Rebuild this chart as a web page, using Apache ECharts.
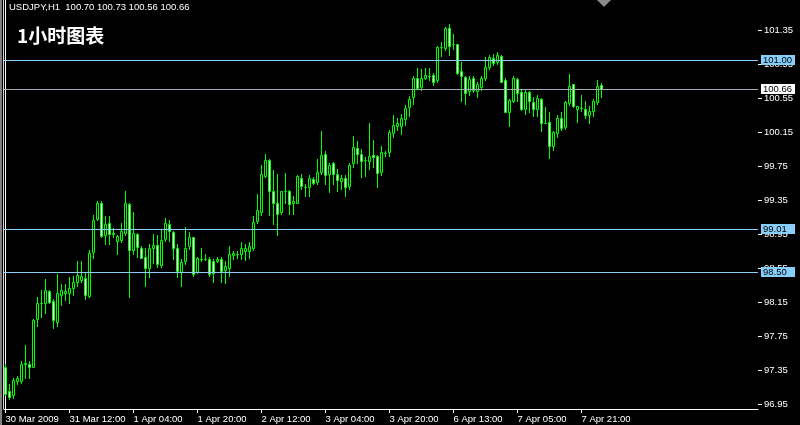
<!DOCTYPE html>
<html><head><meta charset="utf-8">
<script src="https://cdn.jsdelivr.net/npm/echarts@6/dist/echarts.min.js"></script>
<style>html,body{margin:0;padding:0;background:#000;}#c{width:800px;height:425px;}</style>
</head><body><div id="c"></div>
<script>
const symbolName = 'USDJPY,H1';
const chartTitle = '1小时图表';
const tickLabels = ['30 Mar 2009','31 Mar 12:00','1 Apr 04:00','1 Apr 20:00','2 Apr 12:00','3 Apr 04:00','3 Apr 20:00','6 Apr 13:00','7 Apr 05:00','7 Apr 21:00'];
const tickIndex = [0,16,32,48,64,80,96,112,128,144];
const yTicks = [96.95,97.35,97.75,98.15,98.55,98.95,99.35,99.75,100.15,100.55,100.95,101.35];
const hLines = [101.00, 99.01, 98.50];
const bidLine = 100.66;

const open = [97.38,97.10,97.05,97.22,97.22,97.42,97.42,97.39,97.95,98.14,
98.14,98.28,98.16,97.92,98.23,98.25,98.25,98.32,98.38,98.41,
98.43,98.22,98.74,99.13,99.31,98.94,99.08,98.95,98.87,98.88,
98.96,99.30,98.76,98.95,98.79,98.68,98.55,98.79,98.82,98.58,
98.89,99.07,98.97,98.79,98.50,98.63,98.81,98.91,98.50,98.65,
98.66,98.65,98.63,98.63,98.66,98.53,98.55,98.70,98.71,98.72,
98.75,98.75,98.78,99.10,99.21,99.63,99.82,99.45,99.32,99.21,
99.46,99.46,99.31,99.32,99.61,99.50,99.50,99.60,99.56,99.68,
99.89,99.65,99.78,99.66,99.57,99.61,99.51,99.78,99.96,99.89,
99.82,99.81,99.88,99.87,99.68,99.90,99.91,100.14,100.22,100.22,
100.30,100.44,100.56,100.78,100.68,100.78,100.81,100.82,100.76,101.15,
101.14,101.37,101.18,101.19,100.87,100.80,100.63,100.78,100.63,100.68,
100.78,100.91,101.02,100.97,101.05,100.76,100.38,100.52,100.77,100.62,
100.42,100.62,100.50,100.42,100.54,100.26,100.27,99.99,100.14,100.31,
100.21,100.49,100.71,100.42,100.43,100.42,100.35,100.40,100.50,100.70];
const high = [97.42,97.19,97.25,97.28,97.45,97.64,97.46,97.95,98.21,98.29,
98.42,98.29,98.19,98.48,98.36,98.36,98.44,98.45,98.63,98.63,
98.50,98.76,99.17,99.34,99.34,99.16,99.16,99.02,98.94,99.08,
99.45,99.31,99.21,98.96,98.81,98.79,98.83,98.95,98.94,99.00,
99.14,99.11,98.98,98.83,98.66,99.03,98.97,98.92,98.68,98.78,
98.71,98.68,98.66,98.68,98.68,98.63,98.81,98.75,98.75,98.85,
98.83,98.85,99.16,99.42,99.76,99.89,99.83,99.70,99.66,99.46,
99.67,99.47,99.40,99.64,99.66,99.54,99.64,99.62,99.83,100.16,
99.93,99.79,99.80,99.71,99.64,99.64,99.79,100.10,100.04,99.95,
99.85,100.25,100.05,99.88,99.99,99.93,100.17,100.35,100.31,100.36,
100.47,100.57,100.81,100.90,100.89,100.90,100.90,100.85,101.16,101.21,
101.38,101.42,101.30,101.19,100.97,100.81,100.81,100.81,100.74,100.81,
101.03,101.06,101.07,101.09,101.06,100.78,100.54,100.81,100.79,100.64,
100.64,100.63,100.56,100.58,100.55,100.44,100.38,100.16,100.35,100.38,
100.51,100.83,100.72,100.46,100.58,100.52,100.46,100.54,100.76,100.73];
const low = [97.05,97.01,97.02,97.19,97.20,97.26,97.25,97.38,97.87,97.97,
98.02,98.14,97.84,97.87,98.11,98.17,98.14,98.23,98.34,98.38,
98.18,98.21,98.67,99.11,98.92,98.83,98.83,98.91,98.72,98.85,
98.94,98.21,98.72,98.68,98.67,98.34,98.44,98.61,98.56,98.56,
98.87,98.87,98.66,98.44,98.34,98.60,98.77,98.46,98.49,98.63,
98.64,98.46,98.39,98.62,98.38,98.37,98.46,98.65,98.67,98.65,
98.64,98.67,98.76,99.08,99.17,99.62,99.17,99.07,98.94,99.19,
99.32,99.19,99.19,99.31,99.48,99.40,99.40,99.54,99.54,99.66,
99.54,99.44,99.54,99.46,99.48,99.40,99.48,99.74,99.79,99.62,
99.63,99.72,99.74,99.50,99.64,99.87,99.87,100.09,100.17,100.13,
100.23,100.34,100.48,100.66,100.65,100.77,100.76,100.70,100.74,101.04,
101.11,101.06,101.13,100.83,100.51,100.48,100.58,100.62,100.56,100.65,
100.76,100.89,100.94,100.95,100.74,100.38,100.22,100.50,100.51,100.41,
100.36,100.38,100.34,100.34,100.16,100.25,99.84,99.94,100.09,100.17,
100.19,100.47,100.44,100.27,100.40,100.32,100.26,100.34,100.48,100.56];
const close = [97.07,97.03,97.23,97.25,97.42,97.43,97.38,97.94,98.14,98.14,
98.29,98.15,97.94,98.25,98.29,98.28,98.32,98.38,98.47,98.46,
98.23,98.73,99.12,99.32,98.93,99.07,98.95,98.96,98.93,98.98,
99.31,98.76,98.96,98.80,98.67,98.55,98.79,98.82,98.60,98.88,
99.08,98.98,98.78,98.51,98.62,98.79,98.91,98.48,98.67,98.66,
98.66,98.48,98.49,98.65,98.51,98.57,98.72,98.73,98.71,98.79,
98.78,98.81,99.09,99.23,99.65,99.82,99.45,99.32,99.19,99.45,
99.46,99.30,99.34,99.63,99.51,99.50,99.61,99.55,99.68,99.88,
99.64,99.76,99.65,99.59,99.61,99.50,99.76,99.97,99.89,99.81,
99.82,99.87,99.85,99.67,99.91,99.90,100.15,100.23,100.25,100.31,
100.43,100.54,100.79,100.67,100.78,100.82,100.81,100.74,101.15,101.15,
101.37,101.16,101.18,100.85,100.81,100.61,100.77,100.65,100.71,100.79,
100.91,101.03,100.96,101.06,100.74,100.39,100.53,100.78,100.61,100.42,
100.62,100.52,100.42,100.55,100.26,100.26,99.98,100.15,100.31,100.20,
100.50,100.69,100.45,100.45,100.43,100.35,100.40,100.52,100.69,100.66];

const candles = open.map((o, i) => [i, o, close[i], low[i], high[i]]);
const last = open.length - 1;
const header = symbolName + '  ' + [open[last], high[last], low[last], close[last]].map(v => v.toFixed(2)).join(' ');

const FONT = '"Liberation Sans", Arial, sans-serif';
const FS = 9.5;
const LINE_BLUE = '#87cefa';
const BID_GRAY = '#a4acb8';
const lineDefs = [
  [0, hLines[0], LINE_BLUE, LINE_BLUE],
  [0, bidLine, BID_GRAY, '#ffffff'],
  [0, hLines[1], LINE_BLUE, LINE_BLUE],
  [0, hLines[2], LINE_BLUE, LINE_BLUE]
];

const chart = echarts.init(document.getElementById('c'), null, {renderer: 'canvas'});

chart.setOption({
  backgroundColor: '#000',
  animation: false,
  grid: {left: 4, right: 42, top: 0, bottom: 16},
  xAxis: {
    type: 'value', min: -0.375, max: 188.125,
    axisLine: {show: true, lineStyle: {color: '#fff', width: 1}},
    axisTick: {show: false},
    axisLabel: {
      customValues: tickIndex, color: '#fff', fontFamily: FONT, fontSize: FS,
      align: 'left', margin: 5, lineHeight: 10,
      formatter: v => tickLabels[tickIndex.indexOf(Math.round(v))] || ''
    },
    splitLine: {show: false}
  },
  yAxis: {
    type: 'value', position: 'right', min: 96.891, max: 101.703, scale: true,
    axisLine: {show: true, lineStyle: {color: '#fff', width: 1}},
    axisTick: {show: false},
    axisLabel: {
      customValues: yTicks, color: '#fff', fontFamily: FONT, fontSize: FS, margin: 6,
      formatter: v => v.toFixed(2)
    },
    splitLine: {show: false}
  },
  graphic: [
    {type: 'rect', shape: {x: 0, y: 0, width: 2, height: 425}, style: {fill: '#808080'}, z: 10},
    {type: 'line', shape: {x1: 3.5, y1: 0, x2: 3.5, y2: 409}, style: {stroke: '#d8d8d8', lineWidth: 1}, z: 10},
    {type: 'polygon', shape: {points: [[597, 0], [611, 0], [604, 7]]}, style: {fill: '#8a8a8a'}, z: 10},
    {type: 'text', x: 9, y: 7, style: {text: header, fill: '#fff', font: FS + 'px ' + FONT, textVerticalAlign: 'middle'}, z: 10},
    {type: 'text', x: 17, y: 36, style: {text: chartTitle, fill: '#fff', font: 'bold 19px "Noto Sans CJK SC", sans-serif', textVerticalAlign: 'middle'}, z: 10}
  ],
  series: [
    {
      type: 'custom',
      name: 'candles',
      data: candles,
      clip: true,
      z: 3,
      renderItem: function (params, api) {
        const i = api.value(0), o = api.value(1), c = api.value(2), l = api.value(3), h = api.value(4);
        const pO = api.coord([i, o]), pC = api.coord([i, c]);
        const pL = api.coord([i, l]), pH = api.coord([i, h]);
        const cx = Math.floor(pO[0]) + 0.5;
        const yTop = Math.round(Math.min(pO[1], pC[1])) + 0.5;
        const yBot = Math.round(Math.max(pO[1], pC[1])) + 0.5;
        const yH = Math.round(pH[1]), yL = Math.round(pL[1]) + 1;
        const bear = c < o;
        return {
          type: 'group',
          children: [
            {type: 'line', shape: {x1: cx, y1: yH, x2: cx, y2: yL}, style: {stroke: '#00ff00', lineWidth: 1}},
            {type: 'rect', shape: {x: cx - 1, y: yTop, width: 2, height: Math.max(yBot - yTop, 0)},
             style: {fill: bear ? '#ffffff' : '#000000', stroke: '#00ff00', lineWidth: 1}}
          ]
        };
      }
    },
    {
      type: 'custom',
      name: 'yticks',
      data: yTicks.map(v => [0, v]),
      clip: false,
      silent: true,
      z: 1,
      renderItem: function (params, api) {
        const cs = params.coordSys;
        const x = cs.x + cs.width;
        const y = Math.round(api.coord([api.value(0), api.value(1)])[1]) + 0.5;
        return {type: 'line', shape: {x1: x, y1: y, x2: x + 4, y2: y}, style: {stroke: '#fff', lineWidth: 1}};
      }
    },
    {
      type: 'custom',
      name: 'xticks',
      data: tickIndex.map(i => [i, yTicks[0]]),
      clip: false,
      silent: true,
      z: 1,
      renderItem: function (params, api) {
        const cs = params.coordSys;
        const y = cs.y + cs.height;
        const x = Math.floor(api.coord([api.value(0), api.value(1)])[0]) + 0.5;
        return {type: 'line', shape: {x1: x, y1: y, x2: x, y2: y + 4}, style: {stroke: '#fff', lineWidth: 1}};
      }
    },
    {
      type: 'custom',
      name: 'levels',
      data: lineDefs,
      clip: false,
      silent: true,
      z: 5,
      renderItem: function (params, api) {
        const cs = params.coordSys;
        const d = lineDefs[params.dataIndex];
        const v = api.value(1);
        const y = Math.round(api.coord([api.value(0), v])[1]) + 0.5;
        const xr = cs.x + cs.width;
        return {
          type: 'group',
          children: [
            {type: 'line', shape: {x1: cs.x, y1: y, x2: xr, y2: y}, style: {stroke: d[2], lineWidth: 1}, z2: 1},
            {type: 'rect', shape: {x: xr + 3, y: y - 5.5, width: 34, height: 10}, style: {fill: d[3]}, z2: 2},
            {type: 'text', x: xr + 5, y: y, style: {text: v.toFixed(2), fill: '#000', font: FS + 'px ' + FONT, verticalAlign: 'middle', align: 'left'}, z2: 3}
          ]
        };
      }
    }
  ]
});
</script>
</body></html>
